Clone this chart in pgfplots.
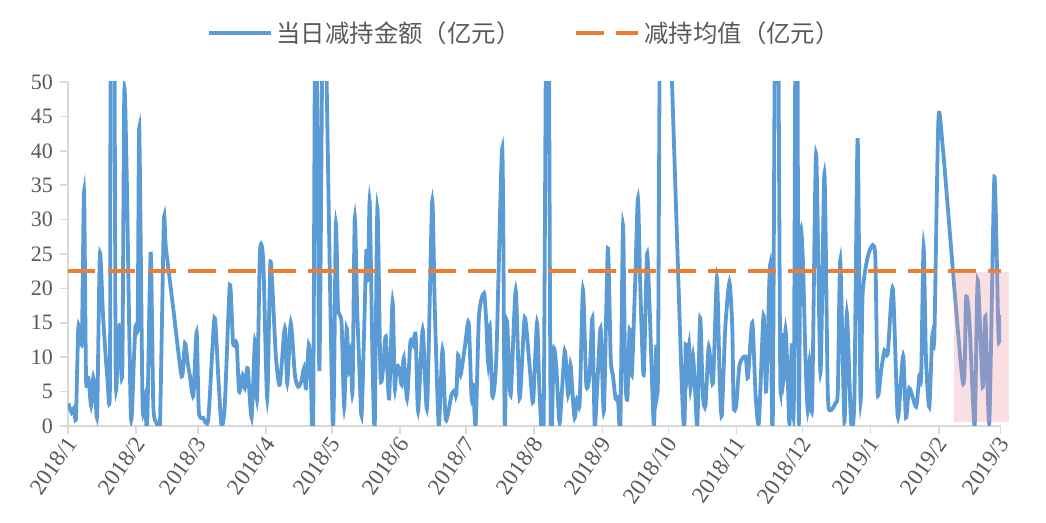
\documentclass[border=0pt]{standalone}
\usepackage{pgfplots}
\pgfplotsset{compat=1.18}
\usepackage{fontspec}
\setmainfont{Liberation Serif}
\newfontfamily\cjk{Noto Sans CJK SC}

\definecolor{xlblue}{RGB}{91,155,213}
\definecolor{xlorange}{RGB}{237,125,49}
\definecolor{axgray}{RGB}{217,217,217}
\definecolor{txtgray}{RGB}{89,89,89}
\definecolor{pinkbox}{RGB}{240,150,160}

% day 0 = 2018/1/1, values in 100 million yuan
\pgfplotstableread{
d v
0.1 3.3
1.7 1.9
2.7 2.6
3.6 1.2
4.7 14.4
5.8 12
6.4 13.5
7.3 34
8.2 7
9.3 7
10.5 3
11.5 7
12.6 3.3
13.3 2.1
14.5 25
16.0 15.7
17.9 7
19.1 7
19.5 80
20.9 75
21.7 7
22.9 14.5
23.6 12.5
24.7 8
25.6 48.5
26.7 36.5
28.6 1.4
30.0 9.9
30.7 14.5
31.7 15
32.4 43.3
33.9 3.3
35.0 4.3
36.0 0
37.6 25.3
38.8 3
40.3 0.5
41.8 0
43.6 29.7
44.5 26
47.9 17
51.7 7.2
53.2 12
54.5 9
55.4 7.4
57.0 4.4
58.5 13.6
59.5 2.1
61.4 1.2
63.8 1.0
66.6 15.7
68.3 7.4
69.8 0.1
71.3 3
73.6 20.5
75.1 12
76.7 12
77.8 5
79.4 7.4
80.4 5.5
81.7 8.4
83.5 1.2
85.0 12.3
86.0 4
87.3 25.3
88.8 23.9
90.6 4
92.1 23.9
94.5 10.3
96.3 6
98.6 14.2
99.7 6.2
101.3 15
103.2 7.4
104.7 5.7
106.2 6.6
107.3 8.4
108.2 5.5
109.5 11.8
110.4 7.4
111.5 0.1
112.7 75
114.3 8
116.1 75
116.6 70
120.4 0.3
121.8 29.2
122.8 17.2
124.4 15
125.6 2.7
126.7 14.2
127.8 8
128.6 11.3
129.4 5
130.4 30.2
131.5 17.2
132.4 9.3
133.5 1.5
134.7 14.2
135.7 25.5
136.5 21.2
137.2 32.6
138.5 9.3
139.5 0.1
140.7 31.7
142.1 7.4
143.3 8.4
144.5 13
146.0 4
147.6 18.1
148.6 5.5
149.4 8.6
150.6 8.4
151.7 6
152.7 9.9
154.2 4
155.7 12.2
156.9 11.8
158.1 13.2
159.2 2.2
161.3 14
163.3 2.7
165.6 32.6
166.8 17.2
168.6 0.1
170.3 11.1
171.8 0.9
174.4 4.5
175.9 5.2
176.6 4.5
177.4 10.3
178.5 7.4
180.4 11.3
182.2 15
183.5 4.3
184.2 6
185.4 0.1
186.9 16
189.2 19.3
190.3 14.5
191.0 9.3
191.8 14.5
193.0 4.3
194.8 9.9
197.5 40.4
198.6 0.1
199.6 15.3
201.3 4.5
203.6 19.7
205.4 4
207.7 15.7
210.0 8.4
211.5 3.5
213.3 15
214.5 4.5
216.3 0.5
218.1 90
219.5 0.1
220.9 11.1
222.1 8.4
223.6 0.5
225.9 10.9
227.4 4.5
228.5 8.9
229.4 5
230.4 1.2
231.6 4
232.7 3.3
234.2 19.8
235.7 6
237.2 7.4
238.5 15.7
239.5 0.1
240.5 4.5
242.2 14.2
243.7 2.2
245.5 25.8
246.8 9.9
247.8 7.4
249.0 4
250.1 4
251.2 0.1
252.4 29.2
253.4 7.4
254.4 4
255.4 14
256.4 7.4
258.0 21.6
259.2 33.1
260.3 19.7
261.8 7.4
263.3 25
264.5 17.2
266.4 0.1
267.5 11.5
268.3 7.4
270.4 85
279.6 2.2
280.9 11.8
281.6 7.4
282.4 11.8
283.1 5.5
284.2 10.3
285.3 4.5
286.2 0.1
287.5 15.7
288.7 4.5
289.9 3
291.4 11.5
293.3 6.2
295.1 21.5
296.3 7.4
297.3 1.5
298.9 14.2
300.8 20.9
302.1 14.2
302.7 3
303.9 3
305.4 8.9
308.1 10.1
309.2 7
311.2 15
312.7 4.5
314.2 0.5
316.3 16
317.5 5
319.3 23.4
320.5 0.1
322.2 95
323.9 7.7
324.6 13.5
325.4 6.7
326.3 14
327.3 7.2
328.1 0.4
329.2 12
330.1 3.8
331.3 90
332.3 1.4
333.1 28
334.2 24.1
335.4 9.6
336.4 2.3
337.2 9.4
338.4 2.7
340.2 39.6
342.2 7.7
344.0 36.7
345.5 5.2
346.7 2.3
349.0 3.3
350.1 5.2
351.2 24.1
353.1 0.6
354.2 16.4
356.1 0.6
357.6 3.8
359.1 41.8
360.4 3.8
361.4 19.3
363.7 24.6
366.0 26.3
367.2 24.1
368.2 4.8
369.8 8.1
371.3 11
372.8 10.6
375.1 20
377.3 1.4
378.9 7.2
379.9 10.1
381.1 1.2
382.6 5.5
385.7 2.8
387.2 7.4
388.0 7.2
389.1 26.1
390.2 9.6
391.7 2.8
393.0 13
394.0 13
395.8 44.2
397.8 40.6
406.9 6.4
408.4 18.6
409.9 15.4
412.3 0.1
413.7 21.2
416.0 5.7
417.2 15.9
419.0 0.6
421.3 36.2
423.2 12.7
424.3 16.1
}\daily

\begin{document}
\begin{tikzpicture}
\begin{axis}[
    name=ax,
    scale only axis,
    width=466.5pt, height=172pt,
    xmin=0, xmax=424.3,
    ymin=0, ymax=50,
    axis x line=bottom, axis y line=left,
    axis line style={draw=axgray, line width=0.8pt, -},
    tick style={draw=axgray, line width=0.8pt},
    tick align=outside,
    major tick length=4pt,
    xtick={0,31,59,90,120,151,181,212,243,273,304,334,365,396,424},
    xticklabels={2018/1,2018/2,2018/3,2018/4,2018/5,2018/6,2018/7,2018/8,2018/9,2018/10,2018/11,2018/12,2019/1,2019/2,2019/3},
    xticklabel style={rotate=55, anchor=east, font=\fontsize{11.5}{13}\selectfont, text=txtgray, inner sep=1pt, yshift=-3pt},
    ytick={0,5,...,50},
    yticklabel style={font=\fontsize{11}{12}\selectfont, text=txtgray},
    /pgf/number format/assume math mode=true,
    legend columns=2,
    legend style={at={(0.49,1.142)}, anchor=center, draw=none, fill=none,
        font=\cjk\fontsize{12.2}{14}\selectfont, text=txtgray,
        /tikz/every even column/.append style={column sep=25pt}},
    legend image code/.code={\draw[#1] (0pt,0pt) -- (31pt,0pt);},
]
\addplot[xlblue, line width=1.9pt, smooth, tension=0.4] table[x=d, y=v] {\daily};
\addlegendentry{当日减持金额（亿元）}
\addplot[xlorange, line width=2pt, dash pattern=on 13.75pt off 6.25pt] coordinates {(0,22.5) (424.3,22.5)};
\addlegendentry{减持均值（亿元）}
\coordinate (pinkA) at (axis cs:403.1,0.6);
\coordinate (pinkB) at (axis cs:428.1,22.4);
\end{axis}
\fill[pinkbox, fill opacity=0.3] (pinkA) rectangle (pinkB);
\pgfresetboundingbox
\path ([shift={(-34pt,-48.5pt)}]ax.south west) rectangle ([shift={(22.5pt,41pt)}]ax.north east);
\end{tikzpicture}
\end{document}
